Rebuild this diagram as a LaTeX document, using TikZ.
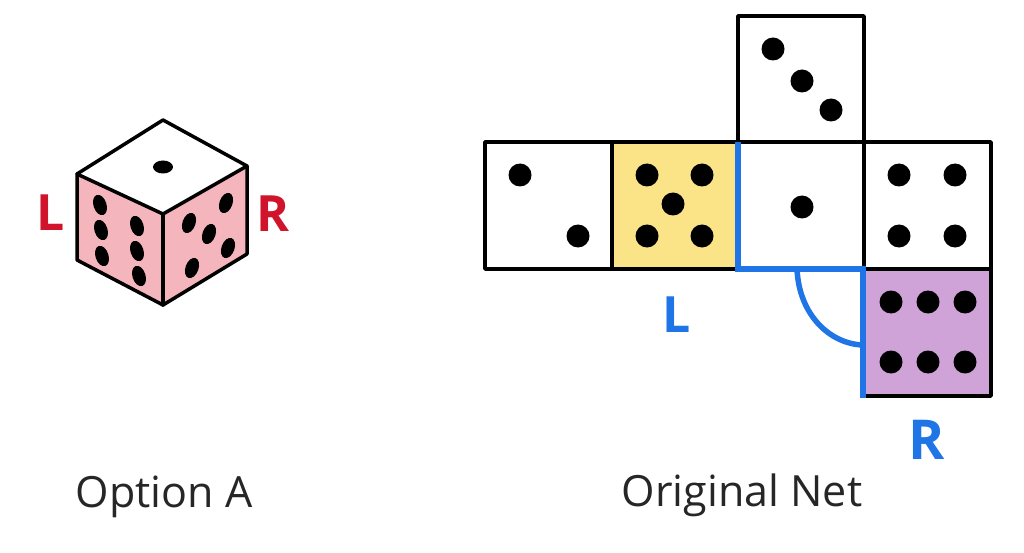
\documentclass[tikz,border=0pt]{standalone}
\usepackage{fontspec}
\setmainfont{Open Sans}
\definecolor{diepink}{HTML}{F4B6BC}
\definecolor{labred}{HTML}{D0142C}
\definecolor{netblue}{HTML}{1F74E6}
\definecolor{netyellow}{HTML}{FBE488}
\definecolor{netpurple}{HTML}{CFA3D8}
\tikzset{
  edge/.style={draw=black,line width=3.5pt,line join=round,line cap=round},
  cell/.style={draw=black,line width=3.5pt,line join=round},
  bluefold/.style={draw=netblue,line width=5.5pt,line join=miter},
  netpip/.style={fill=black,draw=none},
  caption/.style={font=\fontsize{43}{50}\selectfont,text=black!85,inner sep=0pt},
  biglab/.style={inner sep=0pt}
}
\newcommand{\npip}[2]{\fill[netpip] (#1,#2) circle (11.5);}
\newcommand{\tpip}[3]{\fill[netpip,rotate around={#3:(#1,#2)}] (#1,#2) ellipse (6.5 and 10.5);}
\begin{document}
\begin{tikzpicture}[x=1pt,y=-1pt]
\useasboundingbox (0,0) rectangle (1024,553);
% cube
\fill[diepink] (77,174) -- (163,214) -- (247,166) -- (247,254) -- (163,305) -- (77,260) -- cycle;
\draw[edge] (163,120) -- (247,166) -- (247,254) -- (163,305) -- (77,260) -- (77,174) -- cycle;
\draw[edge] (77,174) -- (163,214) -- (247,166);
\draw[edge] (163,214) -- (163,305);
\fill[netpip] (163,167) ellipse (10 and 6.5);
\tpip{100}{205}{18}\tpip{101}{230}{18}\tpip{102}{256}{18}
\tpip{137}{226}{18}\tpip{137}{251}{18}\tpip{139}{276}{18}
\tpip{226}{203}{-20}\tpip{189}{223}{-20}\tpip{209}{234}{-20}\tpip{228}{248}{-20}\tpip{192}{268}{-20}
\node[biglab,text=labred,font=\fontsize{50}{56}\selectfont\bfseries] (cubeL) at (51,213) {L};
\node[biglab,text=labred,font=\fontsize{50}{56}\selectfont\bfseries] (cubeR) at (273,214) {R};
\node[caption] (capA) at (164,497) {Option A};
% net
\draw[cell] (738,16) rectangle (864,142);
\draw[cell] (485,142) rectangle (612,269);
\draw[cell,fill=netyellow] (612,142) rectangle (738,269);
\draw[cell] (738,142) rectangle (864,269);
\draw[cell] (864,142) rectangle (991,269);
\draw[cell,fill=netpurple] (864,269) rectangle (991,396);
\npip{773}{49}\npip{802}{81}\npip{831}{110}
\npip{520}{175}\npip{578}{236}
\npip{647}{175}\npip{702}{175}\npip{673}{204}\npip{647}{236}\npip{702}{236}
\npip{802}{207}
\npip{899}{175}\npip{955}{175}\npip{899}{236}\npip{955}{236}
\npip{891}{302}\npip{928}{302}\npip{965}{302}\npip{891}{362}\npip{928}{362}\npip{965}{362}
\draw[bluefold] (738,142) -- (738,269) -- (863,269) -- (863,398);
\draw[bluefold] (797,269) .. controls (799,315) and (830,344) .. (863,345);
\node[biglab,text=netblue,font=\fontsize{50}{56}\selectfont\bfseries] (netL) at (677,315) {L};
\node[biglab,text=netblue,font=\fontsize{55}{60}\selectfont\bfseries] (netR) at (927,440) {R};
\node[caption] (capN) at (742,495) {Original Net};
\end{tikzpicture}
\end{document}
